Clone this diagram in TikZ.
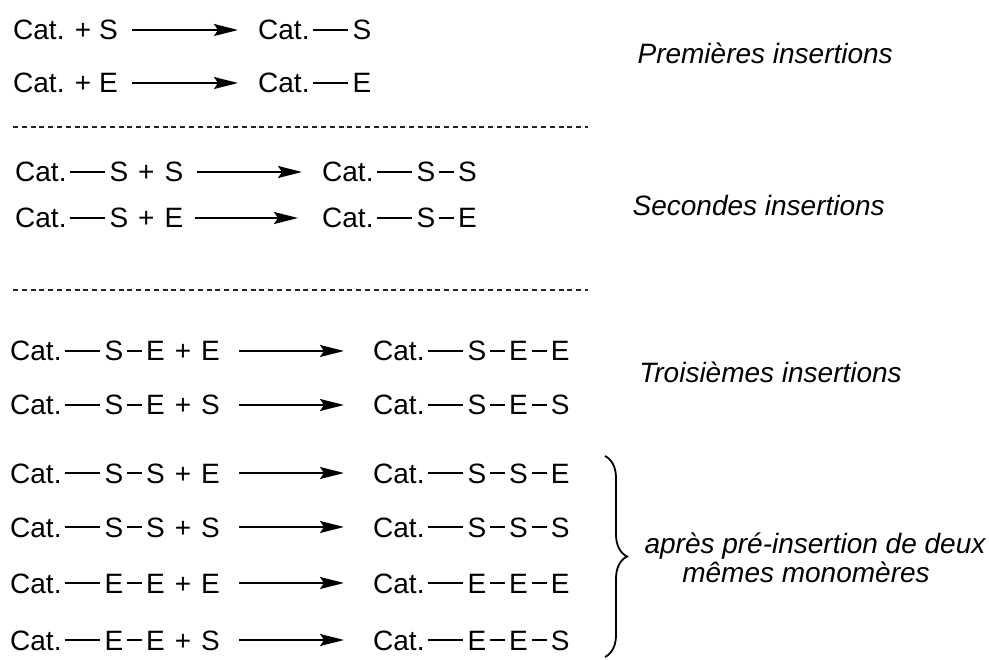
\documentclass[tikz,border=0pt]{standalone}
\usepackage{fontspec}
\setmainfont{Liberation Sans}
\usetikzlibrary{arrows.meta,decorations.pathreplacing}
\newcommand{\lbd}{\kern3pt\rule[9.3pt]{35pt}{1.6pt}\kern5pt}
\newcommand{\sbd}{\kern4pt\rule[9.3pt]{15pt}{1.6pt}\kern4pt}
\newcommand{\pl}{\hspace{10pt}+\hspace{10pt}}
\begin{document}
\begin{tikzpicture}[x=1pt,y=-1pt,
  chem/.style={anchor=base west,inner sep=0pt,font=\fontsize{28}{32}\selectfont},
  lbl/.style={anchor=base east,inner sep=0pt,font=\fontsize{28}{32}\selectfont\itshape},
  lbc/.style={anchor=base,inner sep=0pt,font=\fontsize{28}{32}\selectfont\itshape},
  rxn/.style={-{Stealth[length=24pt,width=12pt,inset=4pt]},line width=1.8pt},
  sep/.style={dash pattern=on 5pt off 3.8pt,line width=1.8pt,black!85}]
\useasboundingbox (0,0) rectangle (989,660);
% --- first insertions
\node[chem] (r1) at (13,40) {Cat. + S};
\node[chem] (p1) at (258,40) {Cat.\lbd S};
\node[chem] (r2) at (13,93) {Cat. + E};
\node[chem] (p2) at (258,93) {Cat.\lbd E};
\coordinate (a1) at (132,30); \coordinate (b1) at (238,30);
\coordinate (a2) at (132,83); \coordinate (b2) at (238,83);
\draw[rxn] (a1) -- (b1);
\draw[rxn] (a2) -- (b2);
\node[lbl] (l1) at (893,64) {Premières insertions};
\coordinate (d1a) at (13,127); \coordinate (d1b) at (588,127);
\draw[sep] (d1a) -- (d1b);
% --- second insertions
\node[chem] (r3) at (15,182) {Cat.\lbd S\pl S};
\node[chem] (p3) at (322,182) {Cat.\lbd S\sbd S};
\node[chem] (r4) at (15,228) {Cat.\lbd S\pl E};
\node[chem] (p4) at (322,228) {Cat.\lbd S\sbd E};
\coordinate (a3) at (197,172); \coordinate (b3) at (302,172);
\coordinate (a4) at (195,218); \coordinate (b4) at (298,218);
\draw[rxn] (a3) -- (b3);
\draw[rxn] (a4) -- (b4);
\node[lbl] (l2) at (885,216) {Secondes insertions};
\coordinate (d2a) at (13,290); \coordinate (d2b) at (588,290);
\draw[sep] (d2a) -- (d2b);
% --- third insertions
\node[chem] (r5) at (10,361) {Cat.\lbd S\sbd E\pl E};
\node[chem] (p5) at (373,361) {Cat.\lbd S\sbd E\sbd E};
\node[chem] (r6) at (10,415) {Cat.\lbd S\sbd E\pl S};
\node[chem] (p6) at (373,415) {Cat.\lbd S\sbd E\sbd S};
\node[chem] (r7) at (10,483) {Cat.\lbd S\sbd S\pl E};
\node[chem] (p7) at (373,483) {Cat.\lbd S\sbd S\sbd E};
\node[chem] (r8) at (10,537) {Cat.\lbd S\sbd S\pl S};
\node[chem] (p8) at (373,537) {Cat.\lbd S\sbd S\sbd S};
\node[chem] (r9) at (10,593) {Cat.\lbd E\sbd E\pl E};
\node[chem] (p9) at (373,593) {Cat.\lbd E\sbd E\sbd E};
\node[chem] (r10) at (10,650) {Cat.\lbd E\sbd E\pl S};
\node[chem] (p10) at (373,650) {Cat.\lbd E\sbd E\sbd S};
\foreach \i/\y in {5/351,6/405,7/473,8/527,9/583,10/640}{
  \coordinate (a\i) at (239,\y); \coordinate (b\i) at (344,\y);
  \draw[rxn] (a\i) -- (b\i);
}
\node[lbl] (l3) at (902,383) {Troisièmes insertions};
\coordinate (bt) at (605,456); \coordinate (bb) at (605,657);
\draw[decorate,decoration={brace,amplitude=22pt},line width=1.8pt] (bt) -- (bb);
\node[lbc] (l4) at (815,553) {après pré-insertion de deux};
\node[lbc] (l5) at (806,582) {mêmes monomères};
\end{tikzpicture}
\end{document}
